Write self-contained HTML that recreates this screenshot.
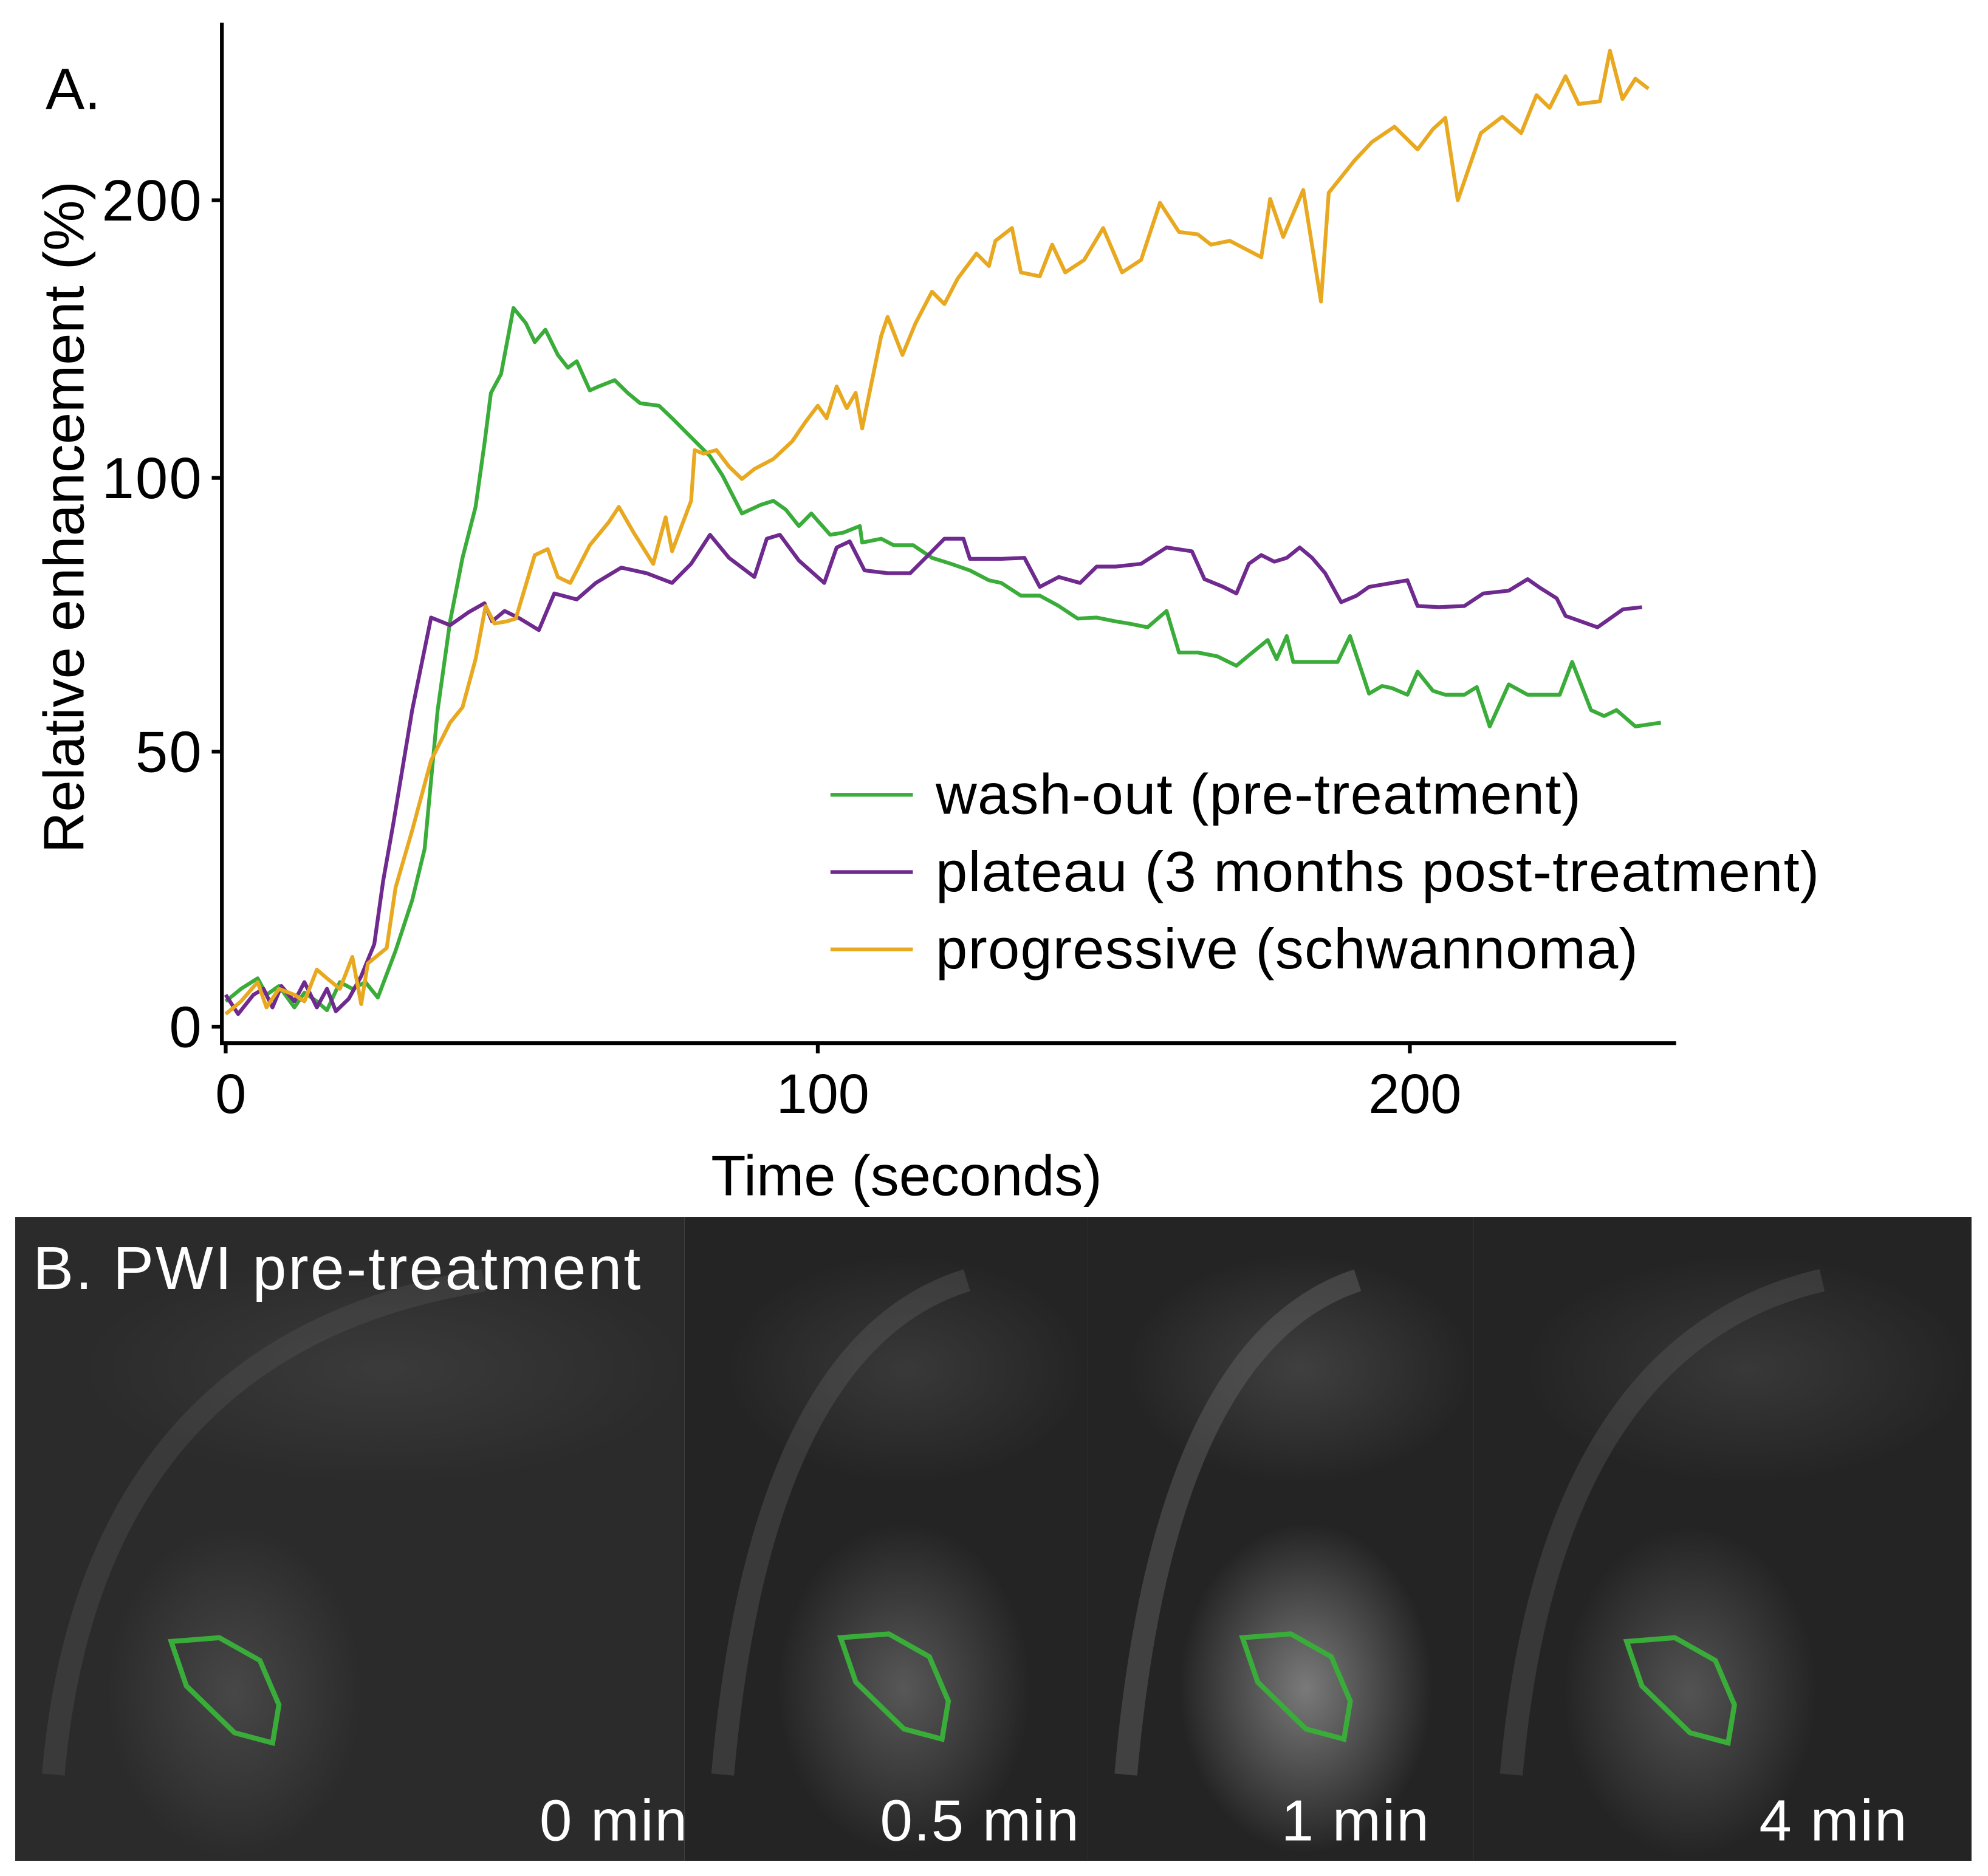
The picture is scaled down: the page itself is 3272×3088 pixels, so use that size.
<!DOCTYPE html>
<html><head><meta charset="utf-8"><style>
html,body{margin:0;padding:0;background:#fff}
svg{display:block}
text{font-family:"Liberation Sans",sans-serif}
</style></head><body>
<svg id="fig" width="3272" height="3088" viewBox="0 0 1568 1480" preserveAspectRatio="none" xmlns="http://www.w3.org/2000/svg">
<defs>
<radialGradient id="gb" cx="50%" cy="50%" r="50%"><stop offset="0" stop-color="#888" stop-opacity="0.55"/><stop offset="1" stop-color="#888" stop-opacity="0"/></radialGradient>
<radialGradient id="gt" cx="50%" cy="50%" r="50%"><stop offset="0" stop-color="#aaa" stop-opacity="0.8"/><stop offset="1" stop-color="#aaa" stop-opacity="0"/></radialGradient>
</defs>
<rect width="1568" height="1480" fill="#fff"/>
<g id="chart"></g>
<g id="panelB"></g>
</svg>
<script>
const greenT=[0,2.6,5.4,6.9,9.0,11.6,13.3,15.4,17.1,19.3,21.4,23.6,25.7,28.7,31.5,33.6,35.8,37.9,40.0,42.2,43.7,44.8,46.5,48.6,50.7,52.2,54.0,56.1,57.8,59.3,61.5,63.0,65.7,67.9,70.0,73.2,75.4,78.6,81.8,83.9,87.2,90.4,92.5,94.6,96.8,98.9,102.1,104.3,107.1,107.5,110.7,112.8,116.1,119.3,122.5,125.7,128.9,131.0,134.3,137.5,140.7,143.9,147.1,150.3,152.5,155.7,158.9,161.0,164.2,167.5,170.7,172.8,176.0,177.5,179.2,180.3,183.5,187.8,189.9,193.1,195.3,197.0,199.6,201.3,203.9,206.0,209.2,211.3,213.5,216.7,219.9,223.1,225.3,227.4,230.6,232.8,234.9,238.1,242.4];
const greenV=[4.6,6.9,8.8,5.8,7.4,3.5,6.2,4.6,3.0,8.1,6.9,8.1,5.3,13.8,23.0,32.3,57.6,73.8,85.4,94.7,112.3,130.6,137.4,161.2,155.7,148.9,153.4,144.3,139.7,142.0,131.5,132.9,135.2,130.6,126.9,126.0,121.5,114.6,107.8,100.9,93.5,95.1,95.8,94.2,91.2,93.5,89.6,90.0,91.2,88.2,88.9,87.7,87.7,85.4,84.3,83.1,81.3,80.8,78.5,78.5,76.6,74.3,74.5,73.8,73.4,72.7,75.7,68.1,68.1,67.4,65.7,67.6,70.4,66.9,71.1,66.4,66.4,66.4,71.1,60.6,62.0,61.6,60.4,64.6,61.1,60.4,60.4,61.8,54.6,62.3,60.4,60.4,60.4,66.4,57.6,56.5,57.6,54.6,55.3];
const purpleT=[0,2.1,4.7,6.4,7.9,9.4,11.6,13.3,15.4,17.1,18.6,20.8,22.9,25.1,26.6,28.3,31.5,34.7,37.9,41.1,43.7,45.0,47.1,49.7,52.9,55.5,59.3,62.5,66.8,71.1,75.4,78.6,81.8,85.0,89.3,91.4,93.6,96.8,101.1,103.2,105.4,107.9,111.8,115.6,118.2,121.4,124.6,125.7,131.0,134.9,137.5,140.7,144.3,147.1,150.3,154.6,158.9,163.2,165.3,168.5,170.7,172.8,174.9,177.1,179.2,181.4,183.5,185.7,188.4,191.0,193.1,199.6,201.3,204.9,209.2,212.4,216.7,219.9,222.0,224.8,226.3,231.7,236.0,239.2];
const purpleV=[5.8,2.3,5.8,6.9,3.5,7.4,4.6,8.1,3.5,6.9,2.8,5.1,9.2,15.0,26.5,36.9,57.6,74.5,73.1,75.5,77.1,73.8,75.7,74.3,72.2,78.9,77.8,80.8,83.6,82.6,80.8,84.3,89.6,85.4,81.9,88.9,89.6,84.9,80.8,87.3,88.4,83.1,82.6,82.6,85.4,88.9,88.9,85.2,85.2,85.4,80.1,81.9,80.8,83.8,83.8,84.3,87.3,86.6,81.5,80.1,78.9,84.3,85.9,84.7,85.4,87.3,85.4,82.6,77.3,78.5,80.1,81.3,76.6,76.4,76.6,78.9,79.4,81.5,79.9,78.0,74.8,72.7,76.0,76.4];
const orangeT=[0,2.6,5.4,6.9,9.0,11.6,13.3,15.4,17.1,19.3,21.4,22.9,24.0,27.2,28.7,31.5,34.7,37.9,40.0,42.2,43.9,45.4,47.5,49.0,52.2,54.4,56.1,58.2,61.5,64.7,66.4,68.9,72.2,74.3,75.4,78.6,79.2,80.7,82.9,85.0,87.2,89.3,92.5,95.7,97.9,100.0,101.5,103.2,104.9,106.4,107.5,110.7,111.8,114.3,116.5,119.3,121.4,123.6,126.8,128.9,130.0,132.8,134.3,137.5,139.6,141.8,145.0,148.2,151.4,154.6,157.8,161.0,164.2,166.4,169.6,174.9,176.4,178.6,182.0,185.0,186.3,190.6,193.6,197.4,201.3,203.9,206.0,208.1,212.0,215.6,218.8,221.4,223.6,226.3,228.5,232.1,233.8,235.9,238.1,240.3];
const orangeV=[2.3,4.6,8.1,3.5,6.9,5.8,4.6,10.4,8.8,6.9,12.7,4.1,11.5,14.3,25.3,35.7,48.4,55.3,58.1,66.9,76.6,73.4,73.8,74.3,85.9,87.0,81.9,80.8,87.7,91.9,94.7,90.0,84.3,92.8,86.6,95.8,110.0,108.7,110.0,104.1,99.8,103.2,106.8,113.2,120.1,126.0,121.5,132.9,125.1,130.6,117.8,151.1,158.0,144.3,155.7,167.1,162.6,171.7,180.8,176.3,185.4,190.0,174.0,172.6,184.0,174.0,178.5,190.0,174.0,178.5,199.1,188.6,187.7,184.0,185.4,179.5,200.5,186.8,203.7,163.5,202.7,214.2,221.0,226.5,218.3,225.6,229.7,200.0,224.2,230.1,224.2,237.9,233.3,244.7,234.7,235.6,253.9,236.5,243.8,240.2];
const xTicks=[0,100,200];
const yTicks=[0,50,100,200];
const seriesNames=["wash-out (pre-treatment)","plateau (3 months post-treatment)","progressive (schwannoma)"];
const seriesColors=["#3aac3a","#6e2a8e","#e8a820"];

const NS="http://www.w3.org/2000/svg";
function mk(tag,attrs,parent){const e=document.createElementNS(NS,tag);for(const k in attrs)e.setAttribute(k,attrs[k]);parent.appendChild(e);return e;}
function xS(t){return 178+t*4.67;}
const yBreakV=[0,50,100,200,300], yBreakP=[810,593,377,158,-61];
function yS(v){for(let i=0;i<yBreakV.length-1;i++){if(v<=yBreakV[i+1]||i===yBreakV.length-2){const f=(v-yBreakV[i])/(yBreakV[i+1]-yBreakV[i]);return yBreakP[i]+f*(yBreakP[i+1]-yBreakP[i]);}}}

const g=document.getElementById('chart');
const ax=mk('path',{d:'M175 18 V823 H1322',stroke:'#000','stroke-width':3,fill:'none'},g);


xTicks.forEach(t=>{
  const l=mk('line',{x1:xS(t),x2:xS(t),y1:823,y2:831,stroke:'#000','stroke-width':3},g);
  
  
  const tx=mk('text',{x:xS(t)+4,y:878,'font-size':44,'text-anchor':'middle',fill:'#000'},g);tx.textContent=t;
  
  
});
yTicks.forEach(v=>{
  const l=mk('line',{x1:167,x2:175,y1:yS(v),y2:yS(v),stroke:'#000','stroke-width':3},g);
  
  
  const tx=mk('text',{x:160,y:yS(v)+16,'font-size':46,'text-anchor':'end',fill:'#000','letter-spacing':1},g);tx.textContent=v;
  
  
});
let t1=mk('text',{x:715,y:943,'font-size':45,'text-anchor':'middle'},g);t1.textContent='Time (seconds)';


let t2=mk('text',{x:0,y:0,'font-size':45,'text-anchor':'middle',transform:'translate(66 408) rotate(-90)'},g);t2.textContent='Relative enhancement (%)';


let t3=mk('text',{x:36,y:86,'font-size':46},g);t3.textContent='A.';



const allT=[greenT,purpleT,orangeT], allV=[greenV,purpleV,orangeV], sNames=['series-wash-out','series-plateau','series-progressive'];
for(let s=0;s<3;s++){
  let d='';allT[s].forEach((t,i)=>{d+=(i?'L':'M')+xS(t).toFixed(1)+' '+yS(allV[s][i]).toFixed(1);});
  const p=mk('path',{d:d,stroke:seriesColors[s],'stroke-width':3,fill:'none','stroke-linejoin':'round'},g);
  
  
}
seriesNames.forEach((n,i)=>{
  const y=627+i*61;
  const l=mk('line',{x1:655,x2:720,y1:y,y2:y,stroke:seriesColors[i],'stroke-width':3},g);
  
  
  const tx=mk('text',{x:738,y:y+15,'font-size':45,'letter-spacing':0.6},g);tx.textContent=n;
  
  
});

// Panel B
const b=document.getElementById('panelB');
const edges=[12,540,858,1162,1555];
const bright=[0.35,0.6,1.0,0.55];
const labels=['0 min','0.5 min','1 min','4 min'];
const labelRight=[543,852,1128,1505];
const polyOff=[[135,1295],[663,1292],[980,1292],[1283,1295]];
for(let i=0;i<4;i++){
  const x0=edges[i],w=edges[i+1]-edges[i];
  const r=mk('rect',{x:x0,y:960,width:w,height:508,fill:i==0?'#2b2b2b':'#242424'},b);
  
  
  const cx=polyOff[i][0]+40,cy=polyOff[i][1]+30;
  mk('ellipse',{cx:cx+10,cy:cy+10,rx:100,ry:130,fill:'url(#gt)',opacity:bright[i]*0.8},b);
  mk('ellipse',{cx:x0+w*0.55,cy:1080,rx:w*0.45,ry:90,fill:'url(#gb)',opacity:0.2+bright[i]*0.3},b);
  mk('path',{d:`M${x0+30} 1400 Q${x0+60} 1060 ${x0+w*0.7} 1010`,stroke:'#666','stroke-width':18,fill:'none',opacity:0.15+bright[i]*0.3},b);
  const [px,py]=polyOff[i];
  const pg=mk('polygon',{points:`${px},${py} ${px+38},${py-3} ${px+70},${py+15} ${px+85},${py+50} ${px+80},${py+80} ${px+50},${py+72} ${px+12},${py+35}`,stroke:'#3aac3a','stroke-width':4,fill:'none'},b);
  
  
  const tx=mk('text',{x:labelRight[i],y:1452,'font-size':46,'text-anchor':'end',fill:'#fff','letter-spacing':1},b);tx.textContent=labels[i];
  
  
}
let tb=mk('text',{x:26,y:1017,'font-size':48,fill:'#fff','letter-spacing':1.5},b);tb.textContent='B. PWI pre-treatment';


</script>
</body></html>
